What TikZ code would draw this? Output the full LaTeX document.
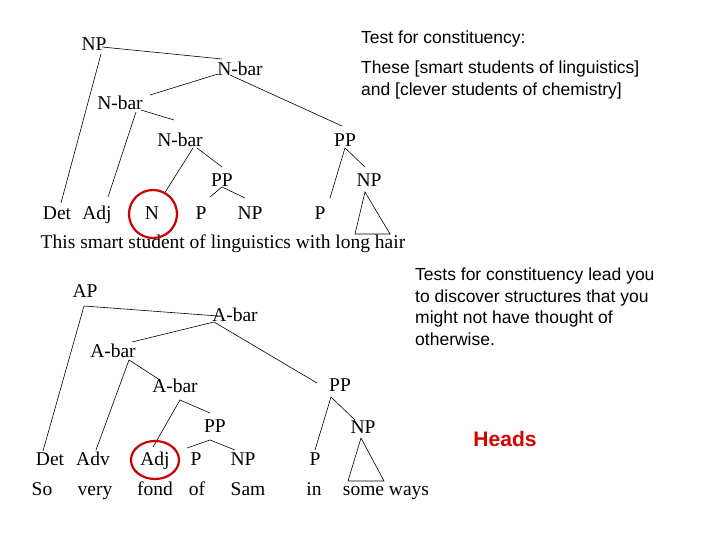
\documentclass[tikz,border=0pt]{standalone}
\usepackage{fontspec}
\usetikzlibrary{shapes.geometric}
\setmainfont{Liberation Serif}
\newfontfamily\arialf{Liberation Sans}
\begin{document}
\begin{tikzpicture}[x=1pt,y=-1pt,
  lab/.style={inner sep=0pt,text height=12pt,text depth=4pt,font=\fontsize{19.5}{19.5}\selectfont},
  note/.style={inner sep=0pt,font=\arialf\fontsize{17.5}{21.5}\selectfont,align=left},
  br/.style={line width=0.6pt},
  hd/.style={draw=red!80!black,line width=2.2pt}]
\useasboundingbox (0,0) rectangle (720,540);
% ---------- top tree ----------
\node[lab] (np) at (94,47) {NP};
\node[lab] (nb1) at (240,72) {N-bar};
\node[lab] (nb2) at (120,106) {N-bar};
\node[lab] (nb3) at (180,143) {N-bar};
\node[lab] (pp1) at (222,183) {PP};
\node[lab] (pp2) at (345,143) {PP};
\node[lab] (np2) at (369,183) {NP};
\node[lab] (det) at (57,215) {Det};
\node[lab] (adj) at (97,215) {Adj};
\node[lab] (n) at (152,215) {N};
\node[lab] (p1) at (201,215) {P};
\node[lab] (np3) at (250,215) {NP};
\node[lab] (p2) at (320,215) {P};
\node[lab] (sent) at (223,244) {This smart student of linguistics with long hair};
\coordinate (a1) at (102,47); \coordinate (a2) at (222,59);
\draw[br] (a1) -- (a2);
\coordinate (b1) at (101,54); \coordinate (b2) at (61,203);
\draw[br] (b1) -- (b2);
\coordinate (c1) at (218,74); \coordinate (c2) at (150,95);
\draw[br] (c1) -- (c2);
\coordinate (d1) at (230,75); \coordinate (d2) at (342,126);
\draw[br] (d1) -- (d2);
\coordinate (e1) at (136,112); \coordinate (e2) at (108,197);
\draw[br] (e1) -- (e2);
\coordinate (f1) at (141,110); \coordinate (f2) at (174,120);
\draw[br] (f1) -- (f2);
\coordinate (g1) at (193,148); \coordinate (g2) at (164,194);
\draw[br] (g1) -- (g2);
\coordinate (h1) at (197,148); \coordinate (h2) at (222,167);
\draw[br] (h1) -- (h2);
\coordinate (i1) at (222,187); \coordinate (i2) at (210,197); \coordinate (i3) at (245,198);
\draw[br] (i2) -- (i1) -- (i3);
\coordinate (j1) at (345,148); \coordinate (j2) at (330,198); \coordinate (j3) at (365,167);
\draw[br] (j2) -- (j1) -- (j3);
\coordinate (t1) at (365,192); \coordinate (t2) at (355,234); \coordinate (t3) at (390,234);
\draw[br] (t1) -- (t2) -- (t3) -- cycle;
\node[hd,circle,minimum size=48pt] (c) at (153,214) {};
% ---------- bottom tree ----------
\node[lab] (ap) at (85,293) {AP};
\node[lab] (ab1) at (235,317) {A-bar};
\node[lab] (ab2) at (113,353) {A-bar};
\node[lab] (ab3) at (175,388) {A-bar};
\node[lab] (bpp1) at (215,428) {PP};
\node[lab] (bpp2) at (340,387) {PP};
\node[lab] (bnp) at (363,429) {NP};
\node[lab] (bdet) at (50,461) {Det};
\node[lab] (badv) at (93,461) {Adv};
\node[lab] (badj) at (155,461) {Adj};
\node[lab] (bp1) at (196,461) {P};
\node[lab] (bnp2) at (243,461) {NP};
\node[lab] (bp2) at (315,461) {P};
\node[lab] (w1) at (42,491) {So};
\node[lab] (w2) at (95,491) {very};
\node[lab] (w3) at (155,491) {fond};
\node[lab] (w4) at (197,491) {of};
\node[lab] (w5) at (248,491) {Sam};
\node[lab] (w6) at (314,491) {in};
\node[lab] (w7) at (386,491) {some ways};
\coordinate (k1) at (84,306); \coordinate (k2) at (218,316); \coordinate (k3) at (43,451);
\draw[br] (k2) -- (k1) -- (k3);
\coordinate (l1) at (214,322); \coordinate (l2) at (132,342); \coordinate (l3) at (317,383);
\draw[br] (l2) -- (l1) -- (l3);
\coordinate (m1) at (129,360); \coordinate (m2) at (96,450); \coordinate (m3) at (160,380);
\draw[br] (m2) -- (m1) -- (m3);
\coordinate (o1) at (180,400); \coordinate (o2) at (153,447); \coordinate (o3) at (210,413);
\draw[br] (o2) -- (o1) -- (o3);
\coordinate (q1) at (210,440); \coordinate (q2) at (187,448); \coordinate (q3) at (235,450);
\draw[br] (q2) -- (q1) -- (q3);
\coordinate (r1) at (331,397); \coordinate (r2) at (315,450); \coordinate (r3) at (355,420);
\draw[br] (r2) -- (r1) -- (r3);
\coordinate (s1) at (361,438); \coordinate (s2) at (348,481); \coordinate (s3) at (384,481);
\draw[br] (s1) -- (s2) -- (s3) -- cycle;
\node[hd,ellipse,minimum width=48pt,minimum height=38pt] (ce) at (155,460) {};
% ---------- notes ----------
\node[note,anchor=west] (t) at (361,39) {Test for constituency:};
\node[note,anchor=north west] (tt) at (361,61) {These [smart students of linguistics]\\and [clever students of chemistry]};
\node[note,anchor=north west] (tb) at (415,268) {Tests for constituency lead you\\to discover structures that you\\might not have thought of\\otherwise.};
\node[inner sep=0pt,font=\arialf\bfseries\fontsize{21}{21}\selectfont,text=red!85!black] (heads) at (505,439) {Heads};
\end{tikzpicture}
\end{document}
